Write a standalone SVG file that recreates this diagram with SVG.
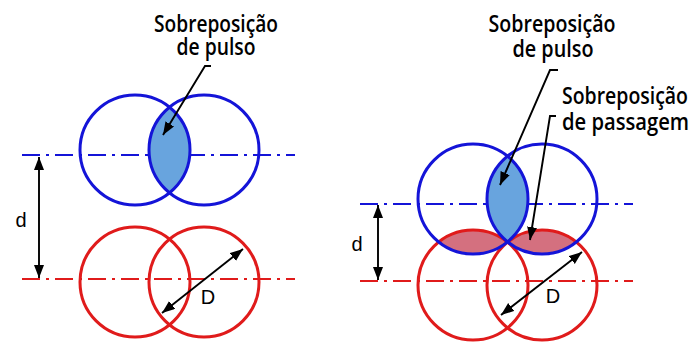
<svg xmlns="http://www.w3.org/2000/svg" width="697" height="343" viewBox="0 0 697 343">
<style>
.bg{fill:#ffffff}
.lbl{font-family:"Open Sans","DejaVu Sans",sans-serif;font-size:23px;font-weight:600;fill:#000}
.sym{font-family:"Liberation Sans",Arial,sans-serif;font-size:20px;fill:#000}
.cb{fill:none;stroke:#1414d8;stroke-width:3}
.cr{fill:none;stroke:#e01b1b;stroke-width:3}
.db{fill:none;stroke:#1414d8;stroke-width:2;stroke-dasharray:18 6 3 6}
.dr{fill:none;stroke:#e01b1b;stroke-width:2;stroke-dasharray:18 6 3 6}
.fb{fill:#68a4de;stroke:none}
.fr{fill:#d4707f;stroke:none}
.ar{fill:none;stroke:#000;stroke-width:1.9}
</style>
<defs>
<marker id="ah" markerUnits="userSpaceOnUse" markerWidth="14" markerHeight="11" refX="13" refY="5" orient="auto-start-reverse">
<path d="M0,0 L13,5 L0,10 Z" fill="#000"/>
</marker>
</defs>
<rect class="bg" x="0" y="0" width="697" height="343"/>

<g id="centerlines">
<line class="db" x1="22" y1="155" x2="295" y2="155"/>
<line class="dr" x1="22" y1="279" x2="295" y2="279"/>
<line class="db" x1="360" y1="204" x2="633" y2="204"/>
<line class="dr" x1="360" y1="281" x2="633" y2="281"/>
</g>

<g id="overlaps">
<path id="lens-left-pulse" class="fb" d="M169.5,107.17 A55,55 0 0,1 169.5,192.83 A55,55 0 0,1 169.5,107.17 Z"/>
<path id="lens-right-pulse" class="fb" d="M507.5,156.17 A55,55 0 0,1 507.5,241.83 A55,55 0 0,1 507.5,156.17 Z"/>
<path id="lens-pass-left" class="fr" d="M438.71,242 A55,55 0 0,1 507.29,242 A55,55 0 0,1 438.71,242 Z"/>
<path id="lens-pass-right" class="fr" d="M507.71,242 A55,55 0 0,1 576.29,242 A55,55 0 0,1 507.71,242 Z"/>
</g>

<g id="spots-left">
<circle id="lb1" class="cb" cx="135" cy="150" r="55"/>
<circle id="lb2" class="cb" cx="204" cy="150" r="55"/>
<circle id="lr1" class="cr" cx="135" cy="282" r="55"/>
<circle id="lr2" class="cr" cx="204" cy="282" r="55"/>
</g>

<g id="spots-right">
<circle id="rr1" class="cr" cx="473" cy="285" r="55"/>
<circle id="rr2" class="cr" cx="542" cy="285" r="55"/>
<circle id="rb1" class="cb" cx="473" cy="199" r="55"/>
<circle id="rb2" class="cb" cx="542" cy="199" r="55"/>
</g>

<g id="connectors">
<path class="ar" d="M211,66 H205 L163,135" marker-end="url(#ah)"/>
<path class="ar" d="M558,70 H550 L500,185" marker-end="url(#ah)"/>
<path class="ar" d="M556,116 H550 L530,240" marker-end="url(#ah)"/>
<line class="ar" x1="39" y1="157" x2="39" y2="278" marker-start="url(#ah)" marker-end="url(#ah)"/>
<line class="ar" x1="378" y1="205" x2="378" y2="280" marker-start="url(#ah)" marker-end="url(#ah)"/>
<line class="ar" x1="243" y1="249" x2="162" y2="313" marker-start="url(#ah)" marker-end="url(#ah)"/>
<line class="ar" x1="582" y1="252" x2="501" y2="315" marker-start="url(#ah)" marker-end="url(#ah)"/>
</g>

<g id="label-left-pulse">
<text class="lbl" x="216" y="32" text-anchor="middle" textLength="124" lengthAdjust="spacingAndGlyphs">Sobreposição</text>
<text class="lbl" x="216" y="55" text-anchor="middle" textLength="79" lengthAdjust="spacingAndGlyphs">de pulso</text>
</g>
<g id="label-right-pulse">
<text class="lbl" x="552" y="32" text-anchor="middle" textLength="127" lengthAdjust="spacingAndGlyphs">Sobreposição</text>
<text class="lbl" x="553" y="57" text-anchor="middle" textLength="81" lengthAdjust="spacingAndGlyphs">de pulso</text>
</g>
<g id="label-right-pass">
<text class="lbl" x="562" y="104" textLength="126" lengthAdjust="spacingAndGlyphs">Sobreposição</text>
<text class="lbl" x="562" y="130" textLength="127" lengthAdjust="spacingAndGlyphs">de passagem</text>
</g>
<g id="dims">
<text class="sym" x="21" y="227" text-anchor="middle">d</text>
<text class="sym" x="357" y="251" text-anchor="middle">d</text>
<text class="sym" x="208" y="304" text-anchor="middle">D</text>
<text class="sym" x="553" y="303" text-anchor="middle">D</text>
</g>
</svg>
